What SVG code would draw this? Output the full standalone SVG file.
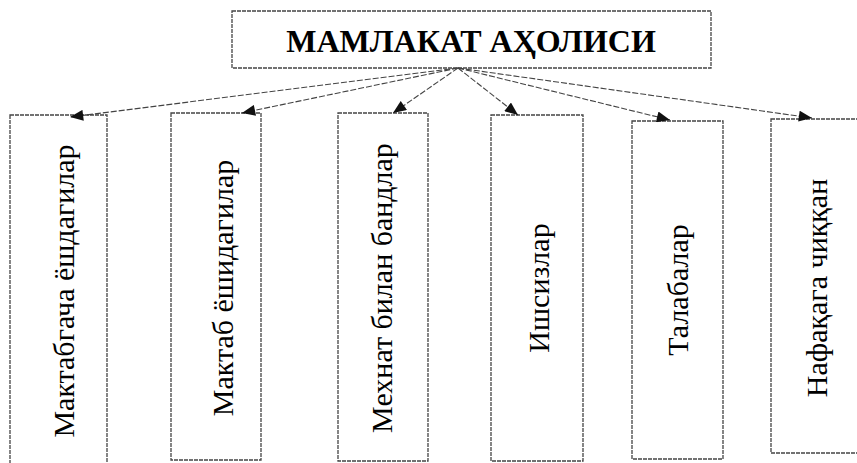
<svg xmlns="http://www.w3.org/2000/svg" width="857" height="463" viewBox="0 0 857 463">
<defs>
<style>
.box{fill:#fff;stroke:#444;stroke-width:1.3;stroke-dasharray:4 1}
.lbl{font-family:"Liberation Serif","Times New Roman",serif;font-size:30px;fill:#000;text-anchor:middle}
.ttl{font-family:"Liberation Serif","Times New Roman",serif;font-size:32px;font-weight:bold;fill:#000;text-anchor:middle}
.con{fill:none;stroke:#444;stroke-width:1.1;stroke-dasharray:6 2}
</style>
<marker id="ah" viewBox="0 0 12 10" refX="12" refY="5" markerWidth="14" markerHeight="11" markerUnits="userSpaceOnUse" orient="auto">
<path d="M0,0 L12,5 L0,10 Z" fill="#111"/>
</marker>
</defs>
<rect width="857" height="463" fill="#fff"/>
<g id="title">
<rect class="box" x="232" y="11" width="479" height="57"/>
<text class="ttl" x="471" y="52">МАМЛАКАТ АҲОЛИСИ</text>
</g>
<g id="n1">
<rect class="box" x="10" y="115" width="97" height="360"/>
<text class="lbl" transform="translate(74,291) rotate(-90)">Мактабгача ёшдагилар</text>
</g>
<g id="n2">
<rect class="box" x="171" y="113" width="90" height="347"/>
<text class="lbl" transform="translate(233,288) rotate(-90)">Мактаб ёшидагилар</text>
</g>
<g id="n3">
<rect class="box" x="338" y="113" width="90" height="348"/>
<text class="lbl" transform="translate(392,288) rotate(-90)">Мехнат билан бандлар</text>
</g>
<g id="n4">
<rect class="box" x="491" y="115" width="92" height="346"/>
<text class="lbl" transform="translate(549,288) rotate(-90)">Ишсизлар</text>
</g>
<g id="n5">
<rect class="box" x="632" y="121" width="91" height="338"/>
<text class="lbl" transform="translate(688,290) rotate(-90)">Талабалар</text>
</g>
<g id="n6">
<rect class="box" x="771" y="119" width="100" height="334"/>
<text class="lbl" transform="translate(827,288) rotate(-90)">Нафақага чиққан</text>
</g>
<g id="connectors">
<line class="con" x1="458" y1="68" x2="70" y2="117" marker-end="url(#ah)"/>
<line class="con" x1="458" y1="68" x2="242" y2="113" marker-end="url(#ah)"/>
<line class="con" x1="458" y1="68" x2="393" y2="113" marker-end="url(#ah)"/>
<line class="con" x1="458" y1="68" x2="518" y2="115" marker-end="url(#ah)"/>
<line class="con" x1="458" y1="68" x2="670" y2="120" marker-end="url(#ah)"/>
<line class="con" x1="458" y1="68" x2="812" y2="118" marker-end="url(#ah)"/>
</g>
</svg>
